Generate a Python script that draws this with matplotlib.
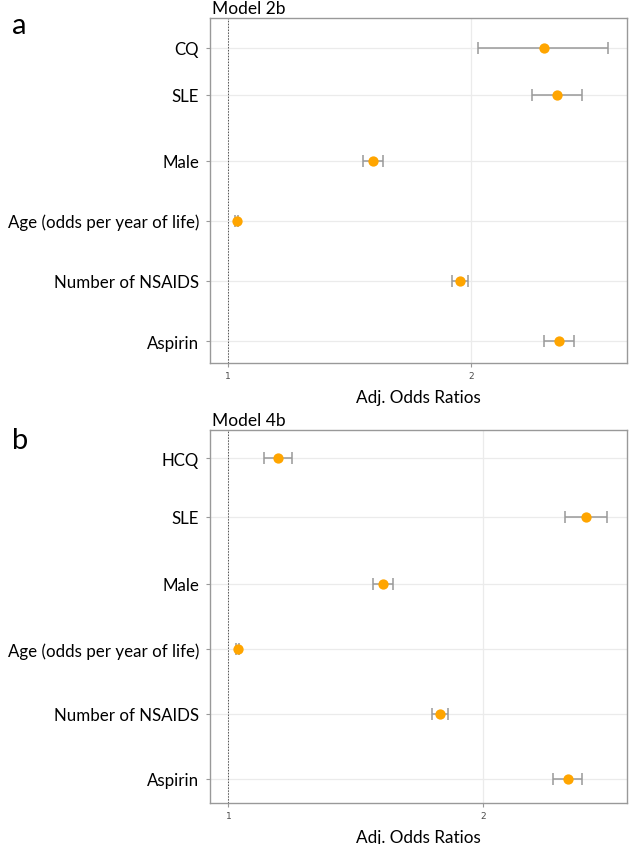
import matplotlib
matplotlib.use("Agg")
import matplotlib.pyplot as plt

labels_a = ["CQ", "SLE", "Male", "Age (odds per year of life)", "Number of NSAIDS", "Aspirin"]
or_a = [2.302, 2.354, 1.596, 1.036, 1.955, 2.363]
lo_a = [2.030, 2.253, 1.557, 1.030, 1.922, 2.301]
hi_a = [2.565, 2.457, 1.636, 1.042, 1.989, 2.425]

labels_b = ["HCQ", "SLE", "Male", "Age (odds per year of life)", "Number of NSAIDS", "Aspirin"]
or_b = [1.196, 2.403, 1.607, 1.036, 1.830, 2.331]
lo_b = [1.141, 2.318, 1.567, 1.030, 1.800, 2.272]
hi_b = [1.250, 2.486, 1.646, 1.042, 1.863, 2.387]

xticks = [1, 2]

W, H = 629, 845
fig = plt.figure(figsize=(W/100, H/100), dpi=100)
FONT = "Lato"
FS = 12.2

def panel(rect, labels, est, lo, hi, ypos, yspan, xlim, title, letter, letter_xy):
    ax = fig.add_axes(rect)
    xerr = [[e - l for e, l in zip(est, lo)], [h - e for e, h in zip(est, hi)]]
    for y in ypos:
        ax.axhline(y, color="#ebebeb", lw=0.9, zorder=0)
    for xt in xticks:
        ax.axvline(xt, color="#ebebeb", lw=0.9, zorder=0)
    ax.axvline(1, color="#555555", lw=0.7, ls=(0, (1.5, 1.5)), zorder=1)
    ax.errorbar(est, ypos, xerr=xerr, fmt="none", ecolor="#999999", elinewidth=1.1,
                capsize=4.5, capthick=1.1, zorder=2)
    ax.scatter(est, ypos, s=55, color="#FFA500", zorder=3, linewidths=0)
    ax.set_xlim(*xlim)
    ax.set_ylim(yspan, 0)
    ax.set_yticks(ypos)
    ax.set_yticklabels(labels, fontsize=FS, family=FONT, color="black")
    ax.set_xticks(xticks)
    ax.set_xticklabels([str(x) for x in xticks], fontsize=6.5, color="#4d4d4d")
    ax.tick_params(axis="y", length=3, color="#999999", pad=5)
    ax.tick_params(axis="x", length=3, color="#999999", pad=3)
    for s in ax.spines.values():
        s.set_color("#999999")
        s.set_linewidth(1.0)
    ax.set_xlabel("Adj. Odds Ratios", fontsize=12.3, family=FONT, labelpad=6)
    ax.text(0.005, 1.005, title, transform=ax.transAxes, ha="left", va="bottom",
            fontsize=12.5, family=FONT)
    fig.text(letter_xy[0], letter_xy[1], letter, fontsize=21, family=FONT,
             ha="left", va="center")
    return ax

# panel a: axes px left 210, right 627, top 19, bottom 364
panel([210/W, 1 - 364/H, 417/W, 345/H], labels_a, or_a, lo_a, hi_a,
      [30, 76.7, 142.7, 202.7, 263, 323.3], 345, (0.925, 2.643),
      "Model 2b", "a", (12/W, 1 - 26/H))
# panel b: axes px left 210, right 627, top 431, bottom 804
panel([210/W, 1 - 804/H, 417/W, 373/H], labels_b, or_b, lo_b, hi_b,
      [28.3, 86.7, 154, 219, 284, 349], 373, (0.928, 2.563),
      "Model 4b", "b", (12/W, 1 - 441/H))

fig.savefig("out.png", dpi=100)
